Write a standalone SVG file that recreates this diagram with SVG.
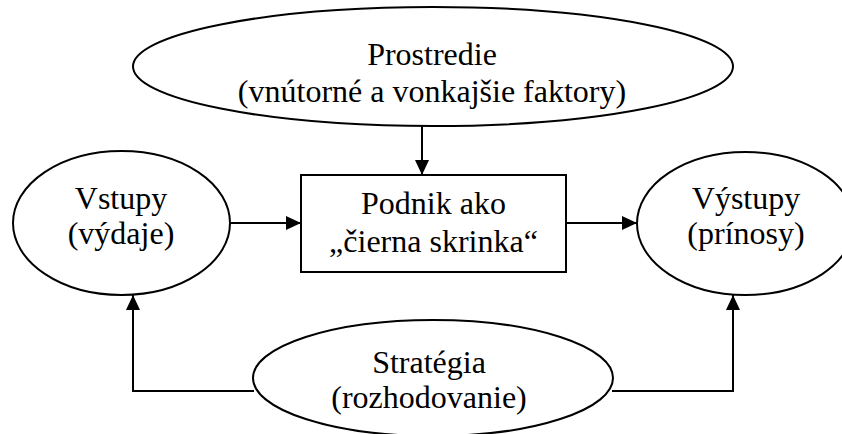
<svg xmlns="http://www.w3.org/2000/svg" width="842" height="434" viewBox="0 0 842 434">
  <style>
    .shape { fill: #ffffff; stroke: #000000; stroke-width: 2; }
    .conn { fill: none; stroke: #000000; stroke-width: 2; }
    .label { font-family: "Liberation Serif", "Times New Roman", serif; font-size: 32px; fill: #000000; text-anchor: middle; }
  </style>
  <defs>
    <marker id="arrow" viewBox="0 0 15 14" refX="15" refY="7" markerWidth="15" markerHeight="14" markerUnits="userSpaceOnUse" orient="auto">
      <path d="M0,0 L15,7 L0,14 Z" fill="#000000"/>
    </marker>
  </defs>
  <rect x="0" y="0" width="842" height="434" fill="#ffffff"/>

  <g id="connectors">
    <line class="conn" x1="422" y1="126" x2="422" y2="175" marker-end="url(#arrow)"/>
    <line class="conn" x1="230" y1="223" x2="301" y2="223" marker-end="url(#arrow)"/>
    <line class="conn" x1="566" y1="223" x2="637" y2="223" marker-end="url(#arrow)"/>
    <polyline class="conn" points="254,391 133,391 133,295" marker-end="url(#arrow)"/>
    <polyline class="conn" points="612,391 733,391 733,295" marker-end="url(#arrow)"/>
  </g>

  <g id="prostredie">
    <ellipse class="shape" cx="433" cy="66.5" rx="300" ry="59.5"/>
    <text class="label" x="432" y="65">Prostredie</text>
    <text class="label" x="432" y="102">(vnútorné a vonkajšie faktory)</text>
  </g>

  <g id="vstupy">
    <ellipse class="shape" cx="121.5" cy="223" rx="108.5" ry="72"/>
    <text class="label" x="121" y="209">Vstupy</text>
    <text class="label" x="121" y="244">(výdaje)</text>
  </g>

  <g id="podnik">
    <rect class="shape" x="301" y="175" width="265" height="97"/>
    <text class="label" x="433.5" y="214">Podnik ako</text>
    <text class="label" x="433.5" y="252">„čierna skrinka“</text>
  </g>

  <g id="vystupy">
    <ellipse class="shape" cx="745.5" cy="223.5" rx="108.5" ry="71.5"/>
    <text class="label" x="746" y="209">Výstupy</text>
    <text class="label" x="746" y="244">(prínosy)</text>
  </g>

  <g id="strategia">
    <ellipse class="shape" cx="433" cy="378" rx="180" ry="58"/>
    <text class="label" x="429" y="373">Stratégia</text>
    <text class="label" x="429" y="408">(rozhodovanie)</text>
  </g>
</svg>
